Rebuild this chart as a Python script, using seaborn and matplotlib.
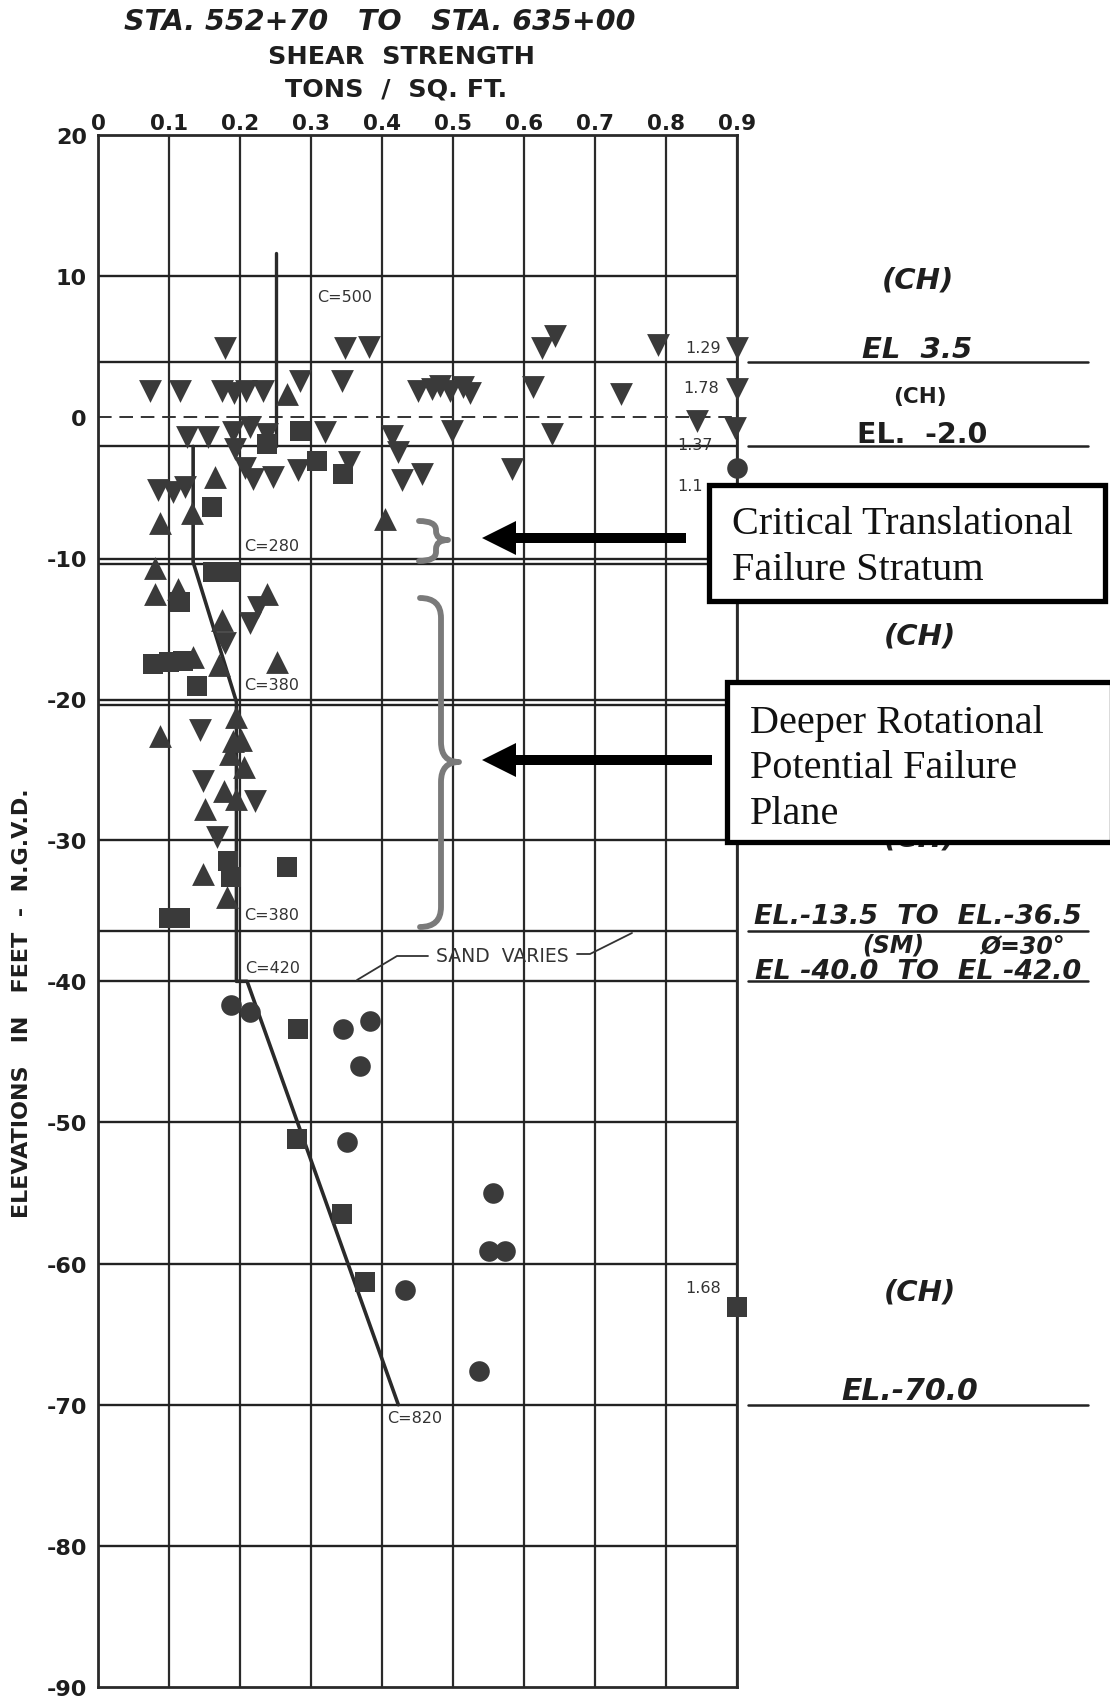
import numpy as np
import pandas as pd
import matplotlib
matplotlib.use("Agg")
import matplotlib.pyplot as plt
import seaborn as sns
from matplotlib.transforms import Affine2D
from matplotlib.patches import FancyArrow, Rectangle, PathPatch
from matplotlib.path import Path
from matplotlib.lines import Line2D

# ---------------- data ----------------
x_ticks = [0, 0.1, 0.2, 0.3, 0.4, 0.5, 0.6, 0.7, 0.8, 0.9]
x_tick_labels = ["0", "0.1", "0.2", "0.3", "0.4", "0.5", "0.6", "0.7", "0.8", "0.9"]
y_ticks = [20, 10, 0, -10, -20, -30, -40, -50, -60, -70, -80, -90]
y_tick_labels = ["20", "10", "0", "-10", "-20", "-30", "-40", "-50", "-60", "-70", "-80", "-90"]

tri_down_x = [0.179, 0.348, 0.382, 0.644, 0.625, 0.789, 0.90,
              0.073, 0.116, 0.174, 0.191, 0.209, 0.233, 0.285, 0.343, 0.451, 0.470,
              0.482, 0.496, 0.514, 0.524, 0.613, 0.737, 0.90,
              0.843, 0.897, 0.498, 0.639, 0.125, 0.155, 0.190, 0.193, 0.214, 0.238,
              0.320, 0.414, 0.423,
              0.583, 0.456, 0.219, 0.247, 0.207, 0.282, 0.353, 0.428,
              0.085, 0.106, 0.122,
              0.179, 0.214, 0.226, 0.144, 0.148, 0.221, 0.167]
tri_down_y = [4.9, 4.9, 4.95, 5.75, 4.9, 5.05, 4.9,
              1.86, 1.86, 1.86, 1.7, 1.86, 1.86, 2.56, 2.56, 1.86, 2.0,
              2.2, 1.8, 2.1, 1.7, 2.1, 1.6, 1.97,
              -0.27, -0.8, -1.0, -1.2, -1.45, -1.45, -1.1, -2.3, -0.74, -1.2,
              -1.1, -1.33, -2.5,
              -3.7, -4.05, -4.4, -4.3, -3.6, -3.8, -3.2, -4.5,
              -5.2, -5.3, -5.0,
              -16.0, -14.6, -13.5, -22.2, -25.8, -27.2, -29.8]

tri_up_x = [0.266, 0.165, 0.132, 0.088, 0.404, 0.080, 0.080, 0.113, 0.174, 0.238,
            0.134, 0.170, 0.252, 0.195, 0.087, 0.186, 0.202, 0.205, 0.190, 0.177,
            0.151, 0.195, 0.148, 0.181]
tri_up_y = [1.6, -4.3, -6.8, -7.5, -7.25, -10.7, -12.56, -12.2, -14.4, -12.56,
            -17.0, -17.6, -17.4, -21.3, -22.6, -23.9, -22.9, -24.8, -23.0, -26.5,
            -27.8, -27.1, -32.4, -34.0]

square_x = [0.238, 0.284, 0.308, 0.345, 0.160, 0.162, 0.186, 0.115, 0.078, 0.100,
            0.120, 0.139, 0.266, 0.183, 0.187, 0.100, 0.115,
            0.282, 0.280, 0.343, 0.376, 0.900]
square_y = [-1.93, -1.0, -3.1, -4.05, -6.4, -11.0, -11.0, -13.1, -17.5, -17.4,
            -17.3, -19.05, -31.9, -31.5, -32.6, -35.5, -35.5,
            -43.4, -51.2, -56.5, -61.3, -63.1]

circle_x = [0.900, 0.188, 0.214, 0.345, 0.383, 0.369, 0.350, 0.557, 0.550, 0.573,
            0.432, 0.536]
circle_y = [-3.6, -41.7, -42.2, -43.4, -42.8, -46.0, -51.4, -55.0, -59.1, -59.1,
            -61.9, -67.6]

# strength design line (cohesion profile)
upper_line_x = [0.25, 0.25]
upper_line_y = [11.6, -2.1]
profile_x = [0.134, 0.134, 0.195, 0.195, 0.21, 0.423]
profile_y = [-2.1, -10.3, -20.2, -40.0, -40.0, -70.0]

c_labels = ["C=500", "C=280", "C=380", "C=380", "C=420", "C=820"]
c_label_x = [0.348, 0.245, 0.245, 0.245, 0.246, 0.446]
c_label_y = [8.5, -9.1, -19.0, -35.3, -39.0, -70.9]

value_labels = ["1.29", "1.78", "1.37", "1.1", "1.68"]
value_label_x = [0.852, 0.850, 0.841, 0.834, 0.852]
value_label_y = [4.93, 2.1, -1.93, -4.85, -61.7]

grid_lines_solid = [10, 3.9, -2.1, -10.1, -10.45, -20.1, -20.4, -30, -36.4, -40,
                    -50, -60, -70, -80]
grid_lines_dashed = [0]
strata_ext_y = [3.9, -2.1, -36.4, -40.0, -70.0]

# ---------------- figure ----------------
sns.set_style("white")
plt.rcParams['font.family'] = ['DejaVu Sans']

W, H = 1110, 1699
fig = plt.figure(figsize=(W / 100, H / 100), dpi=100)
fig.patch.set_facecolor("white")
ax = fig.add_axes([98 / W, 1 - 1688 / H, 639 / W, (1688 - 135.5) / H])
pix = Affine2D().scale(1 / 100, -1 / 100).translate(0, H / 100) + fig.dpi_scale_trans

ink = "#1e1e1e"
mark = "#3a3a3a"

ax.set_xlim(0, 0.9)
ax.set_ylim(-90, 20)
ax.set_xticks(x_ticks)
ax.set_xticklabels(x_tick_labels, fontsize=15.5, fontweight="bold", color=ink)
ax.set_yticks(y_ticks)
ax.set_yticklabels(y_tick_labels, fontsize=16, fontweight="bold", color=ink)
ax.xaxis.tick_top()
ax.tick_params(axis="both", length=0)
ax.tick_params(axis="x", pad=1)
ax.tick_params(axis="y", pad=8)
ax.grid(axis="x", color="#2a2a2a", lw=1.6)
ax.grid(axis="y", visible=False)
for sp in ax.spines.values():
    sp.set_color("#2a2a2a")
    sp.set_linewidth(2.0)

for yv in grid_lines_solid:
    ax.axhline(yv, color="#222222", lw=1.7, zorder=1)
for yv in grid_lines_dashed:
    ax.axhline(yv, color="#333333", lw=1.4, ls=(0, (7, 4)), zorder=1)

for yv in strata_ext_y:
    ax.plot([0.915, 1.395], [yv, yv], color="#222222", lw=1.8, clip_on=False)

# profile lines
sns.lineplot(x=upper_line_x, y=upper_line_y, sort=False, estimator=None, ax=ax,
             color="#2a2a2a", lw=2.4, zorder=3)
sns.lineplot(x=profile_x, y=profile_y, sort=False, estimator=None, ax=ax,
             color="#2a2a2a", lw=2.6, zorder=3)

# markers
kw = dict(ax=ax, color=mark, linewidth=0, zorder=4, clip_on=False, legend=False)
sns.scatterplot(x=tri_down_x, y=tri_down_y, marker="v", s=270, **kw)
sns.scatterplot(x=tri_up_x, y=tri_up_y, marker="^", s=270, **kw)
sns.scatterplot(x=square_x, y=square_y, marker="s", s=200, **kw)
sns.scatterplot(x=circle_x, y=circle_y, marker="o", s=220, **kw)

for t, xv, yv in zip(c_labels, c_label_x, c_label_y):
    ax.text(xv, yv, t, fontsize=11.5, color="#333333", ha="center", va="center", zorder=5)
for t, xv, yv in zip(value_labels, value_label_x, value_label_y):
    ax.text(xv, yv, t, fontsize=11.5, color="#333333", ha="center", va="center", zorder=5,
            clip_on=False)

# titles
fig.text(380, 22, "STA. 552+70   TO   STA. 635+00", transform=pix, fontsize=20.5,
         fontweight="bold", style="italic", ha="center", va="center", color=ink)
fig.text(401, 57, "SHEAR  STRENGTH", transform=pix, fontsize=18.3,
         fontweight="bold", ha="center", va="center", color=ink)
fig.text(396, 89, "TONS  /  SQ. FT.", transform=pix, fontsize=18.3,
         fontweight="bold", ha="center", va="center", color=ink)
fig.text(22, 1003, "ELEVATIONS   IN   FEET  -  N.G.V.D.", transform=pix, fontsize=16,
         fontweight="bold", rotation=90, ha="center", va="center", color=ink)

# right-side stratum annotations
right = [("(CH)", 918, 280, 21, "italic"), ("EL  3.5", 917, 350, 21, "italic"),
         ("(CH)", 920, 397, 15.5, "normal"), ("EL.  -2.0", 922, 435, 20.5, "normal"),
         ("(CH)", 920, 637, 21, "italic"), ("(CH)", 920, 838, 21, "italic"),
         ("EL.-13.5  TO  EL.-36.5", 918, 917, 19.5, "italic"),
         ("(SM)", 893, 946, 17, "italic"), ("\u00d8=30\u00b0", 1022, 946, 17, "italic"),
         ("EL -40.0  TO  EL -42.0", 918, 972, 19.5, "italic"),
         ("(CH)", 920, 1293, 21, "italic"), ("EL.-70.0", 910, 1392, 21.5, "italic")]
for t, xp, yp, fs, st in right:
    fig.text(xp, yp, t, transform=pix, fontsize=fs, fontweight="bold", style=st,
             ha="center", va="center", color=ink)

# sand varies
fig.text(502, 956, "SAND  VARIES", transform=pix, fontsize=13.5, color="#333333",
         ha="center", va="center")
fig.add_artist(Line2D([357, 397, 428], [981, 957, 957], transform=pix, color="#333333", lw=1.3))
fig.add_artist(Line2D([577, 590, 632], [955, 955, 934], transform=pix, color="#333333", lw=1.3))

# braces
def brace(x0, xv, xt, ytop, ymid, ybot, r):
    verts = [(x0, ytop), (xv, ytop), (xv, ytop + r), (xv, ytop + r + 1),
             (xv, ymid - r), (xv, ymid), (xt, ymid),
             (xv, ymid), (xv, ymid + r),
             (xv, ybot - r), (xv, ybot), (x0, ybot)]
    codes = [Path.MOVETO, Path.CURVE3, Path.CURVE3, Path.LINETO,
             Path.LINETO, Path.CURVE3, Path.CURVE3,
             Path.CURVE3, Path.CURVE3,
             Path.LINETO, Path.CURVE3, Path.CURVE3]
    return PathPatch(Path(verts, codes), transform=pix, fill=False,
                     edgecolor="#7a7a7a", lw=4.2, capstyle="round", joinstyle="round")

fig.add_artist(brace(419, 436, 448, 522, 541, 562, 9))
fig.add_artist(brace(420, 441, 459, 599, 763, 928, 20))

# arrows
fig.add_artist(FancyArrow(686, 539, -204, 0, width=10, head_width=34, head_length=34,
                          length_includes_head=True, transform=pix, color="black", lw=0))
fig.add_artist(FancyArrow(712, 761, -230, 0, width=10, head_width=34, head_length=34,
                          length_includes_head=True, transform=pix, color="black", lw=0))

# boxes
fig.add_artist(Rectangle((709, 486), 396, 116, transform=pix, facecolor="white",
                         edgecolor="black", lw=3.8, zorder=10))
fig.add_artist(Rectangle((727, 683), 385, 160, transform=pix, facecolor="white",
                         edgecolor="black", lw=3.8, zorder=10))
serif = ["Liberation Serif", "DejaVu Serif"]
fig.text(732, 524, "Critical Translational", transform=pix, fontsize=29, family=serif,
         ha="left", va="center", color="#111111", zorder=11)
fig.text(732, 571, "Failure Stratum", transform=pix, fontsize=29, family=serif,
         ha="left", va="center", color="#111111", zorder=11)
for t, yp in zip(["Deeper Rotational", "Potential Failure", "Plane"], [723, 769, 815]):
    fig.text(750, yp, t, transform=pix, fontsize=29, family=serif,
             ha="left", va="center", color="#111111", zorder=11)

fig.savefig("out.png", dpi=100, facecolor="white")
